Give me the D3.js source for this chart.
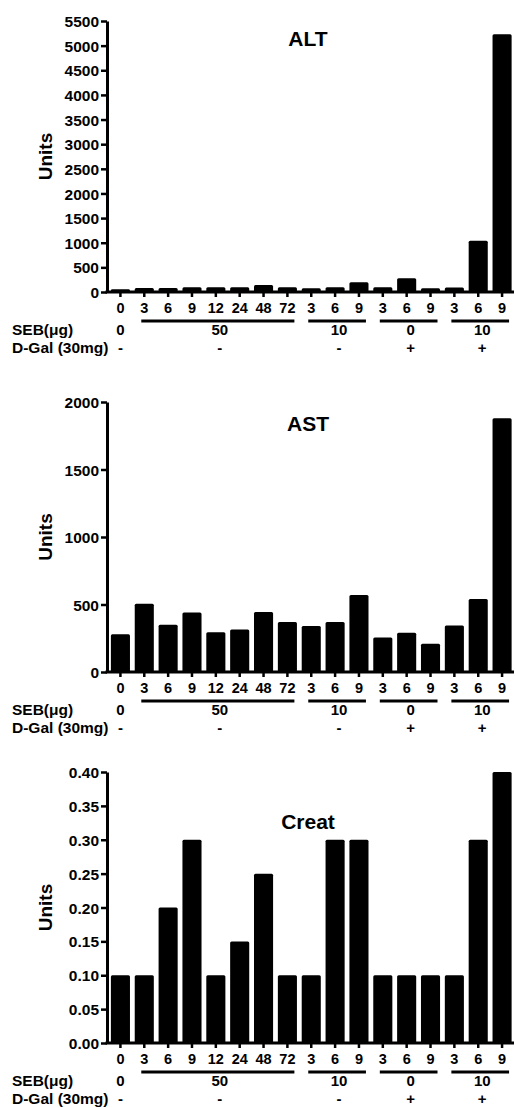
<!DOCTYPE html>
<html>
<head>
<meta charset="utf-8">
<script src="https://cdn.jsdelivr.net/npm/d3@7"></script>
<style>
  html, body { margin: 0; padding: 0; background: #fff; }
  svg { display: block; }
  text { font-family: "Liberation Sans", Arial, Helvetica, sans-serif; font-weight: bold; fill: #000; }
</style>
</head>
<body>
<svg id="chart" width="515" height="1108"></svg>
<script>
// ---- data ----
const categories = ["0","3","6","9","12","24","48","72","3","6","9","3","6","9","3","6","9"];
const altValues   = [55, 80, 80, 95, 95, 95, 140, 95, 75, 95, 200, 95, 280, 75, 90, 1040, 5230];
const astValues   = [280, 505, 350, 440, 295, 315, 445, 370, 340, 370, 570, 255, 290, 210, 345, 540, 1880];
const creatValues = [0.10, 0.10, 0.20, 0.30, 0.10, 0.15, 0.25, 0.10, 0.10, 0.30, 0.30, 0.10, 0.10, 0.10, 0.10, 0.30, 0.40];
const altTicks   = [0, 500, 1000, 1500, 2000, 2500, 3000, 3500, 4000, 4500, 5000, 5500];
const astTicks   = [0, 500, 1000, 1500, 2000];
const creatTicks = [0, 0.05, 0.10, 0.15, 0.20, 0.25, 0.30, 0.35, 0.40];
const panelTitles = ["ALT", "AST", "Creat"];
const yAxisLabel = "Units";
const groupSpans = [[1, 7], [8, 10], [11, 13], [14, 16]];   // bar index ranges under a line
const sebLabels  = ["0", "50", "10", "0", "10"];
const dgalLabels = ["-", "-", "-", "+", "+"];
const sebRowLabel = "SEB(\u03bcg)";
const dgalRowLabel = "D-Gal (30mg)";

// ---- layout ----
const svg = d3.select("#chart");
const axisX = 107;
const x = d3.scaleBand().domain(d3.range(categories.length)).range([108.5, 514]).paddingInner(0.2).paddingOuter(0.1);

const panels = [
  { values: altValues,   ticks: altTicks,   max: 5500, fmt: d3.format("d"),   top: 21,  bottom: 292,  titleY: 46 },
  { values: astValues,   ticks: astTicks,   max: 2000, fmt: d3.format("d"),   top: 402, bottom: 672,  titleY: 431 },
  { values: creatValues, ticks: creatTicks, max: 0.40, fmt: d3.format(".2f"), top: 772, bottom: 1043, titleY: 829 }
];

panels.forEach((p, pi) => {
  const g = svg.append("g");
  const y = d3.scaleLinear().domain([0, p.max]).range([p.bottom, p.top]);

  // bars
  g.selectAll("rect.bar").data(p.values).join("rect")
    .attr("class", "bar")
    .attr("x", (d, i) => x(i))
    .attr("y", d => y(d))
    .attr("width", x.bandwidth())
    .attr("height", d => y(0) - y(d))
    .attr("rx", 1.5)
    .attr("fill", "#000");

  // y axis
  const ya = g.append("g").attr("transform", `translate(${axisX},0)`)
    .call(d3.axisLeft(y).tickValues(p.ticks).tickFormat(p.fmt).tickSize(6).tickPadding(2).tickSizeOuter(0));
  ya.select(".domain").attr("stroke-width", 3).attr("stroke", "#000");
  ya.selectAll(".tick line").attr("stroke-width", 2.5).attr("stroke", "#000");
  ya.selectAll(".tick text").style("font-size", "15.5px").style("font-family", '"Liberation Sans", Arial, sans-serif').style("font-weight", "bold").attr("dy", "0.36em");

  // x axis
  const xa = g.append("g").attr("transform", `translate(0,${p.bottom})`)
    .call(d3.axisBottom(x).tickFormat(i => categories[i]).tickSize(5).tickPadding(6));
  xa.select(".domain").remove();
  xa.selectAll(".tick line").attr("stroke-width", 2.5).attr("stroke", "#000");
  xa.selectAll(".tick text").style("font-size", "14.5px").style("font-family", '"Liberation Sans", Arial, sans-serif').style("font-weight", "bold");
  g.append("line").attr("x1", axisX - 1.5).attr("x2", 514).attr("y1", p.bottom).attr("y2", p.bottom)
    .attr("stroke", "#000").attr("stroke-width", 3);

  // group lines and labels
  const lineY = p.bottom + 29;
  const centers = [x(0) + x.bandwidth() / 2];
  groupSpans.forEach(([a, b]) => {
    const x1 = x(a) + x.bandwidth() / 2 - 3;
    const x2 = x(b) + x.bandwidth() / 2 + 7;
    g.append("line").attr("x1", x1).attr("x2", x2).attr("y1", lineY).attr("y2", lineY)
      .attr("stroke", "#000").attr("stroke-width", 3);
    centers.push((x1 + x2) / 2 + 2);
  });
  sebLabels.forEach((t, i) => {
    g.append("text").attr("x", centers[i]).attr("y", p.bottom + 43).attr("text-anchor", "middle")
      .style("font-size", "15px").text(t);
  });
  dgalLabels.forEach((t, i) => {
    g.append("text").attr("x", centers[i]).attr("y", p.bottom + 61).attr("text-anchor", "middle")
      .style("font-size", "15px").text(t);
  });
  g.append("text").attr("x", 12).attr("y", p.bottom + 43).style("font-size", "15.5px").text(sebRowLabel);
  g.append("text").attr("x", 12).attr("y", p.bottom + 61).style("font-size", "15.5px").text(dgalRowLabel);

  // y label
  g.append("text")
    .attr("transform", `translate(52,${(p.top + p.bottom) / 2}) rotate(-90)`)
    .attr("text-anchor", "middle").style("font-size", "19px").text(yAxisLabel);

  // title
  g.append("text").attr("x", 308).attr("y", p.titleY).attr("text-anchor", "middle")
    .style("font-size", "21px").text(panelTitles[pi]);
});
</script>
</body>
</html>
